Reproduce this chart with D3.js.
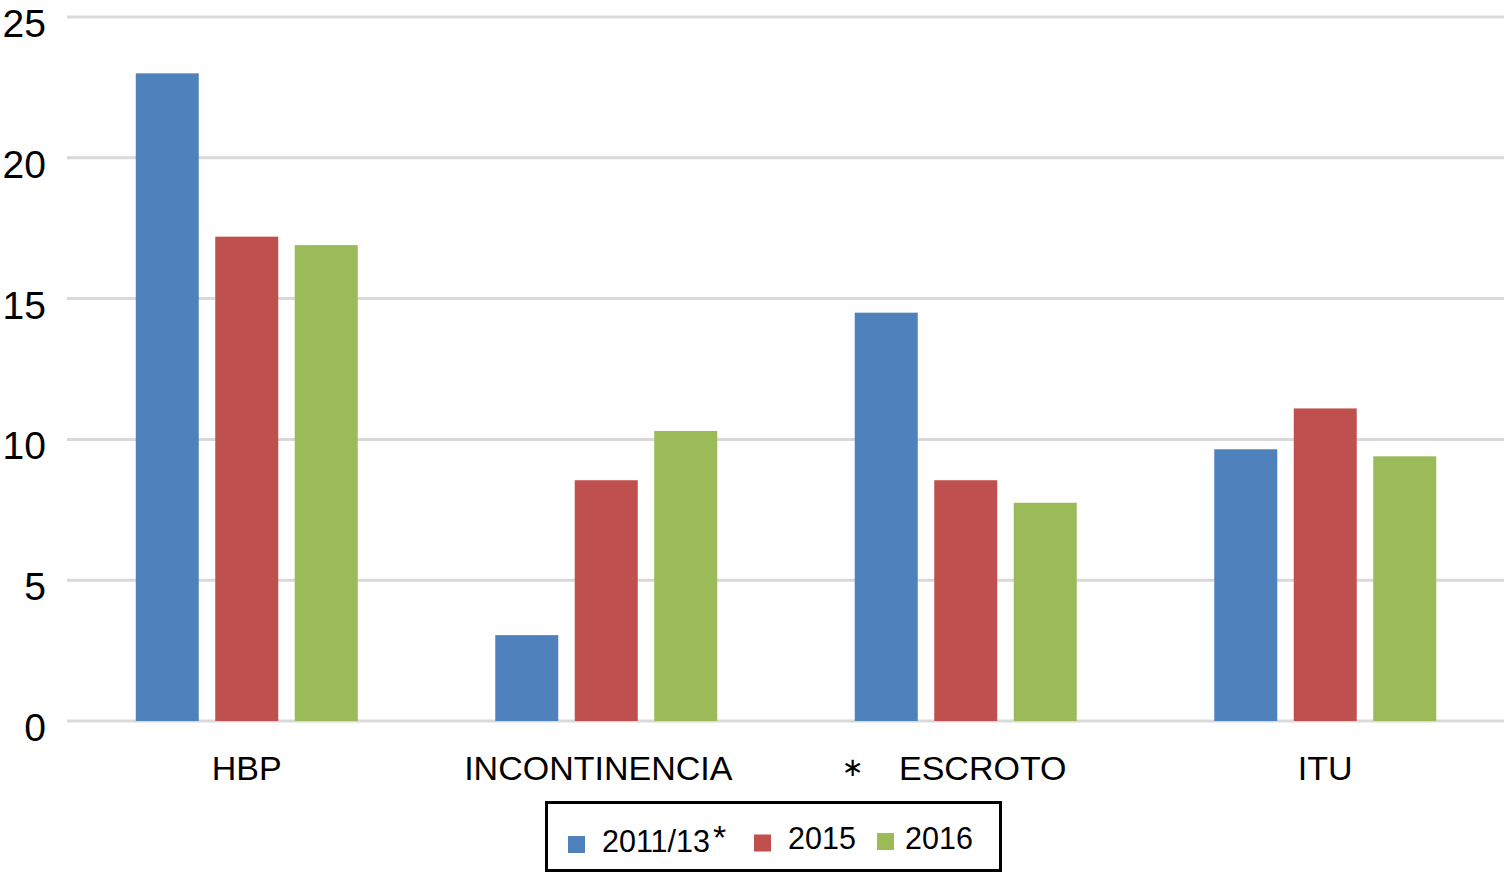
<!DOCTYPE html>
<html>
<head>
<meta charset="utf-8">
<script src="https://cdn.jsdelivr.net/npm/d3@7"></script>
<style>
  body { margin: 0; background: #fff; }
  svg { display: block; font-family: "Liberation Sans", Arial, Helvetica, sans-serif; }
</style>
</head>
<body>
<div id="chart"></div>
<script>
// values
const categories = ["HBP", "INCONTINENCIA", "ESCROTO", "ITU"];
const footMarks = ["", "", "*", ""];
const series = ["2011/13", "2015", "2016"];
const seriesMarks = ["*", "", ""];
const v2011 = [23.0, 3.05, 14.5, 9.65];
const v2015 = [17.2, 8.55, 8.55, 11.1];
const v2016 = [16.9, 10.3, 7.75, 9.4];
const yTicks = [0, 5, 10, 15, 20, 25];
const colors = ["#4f81bd", "#c0504d", "#9bbb59"];

const width = 1504, height = 873;
const margin = {top: 17, right: 0, bottom: 152, left: 67};

const values = [v2011, v2015, v2016];
const data = categories.map((c, i) => ({
  cat: c,
  vals: series.map((s, j) => ({key: s, value: values[j][i], idx: j}))
}));

const svg = d3.select("#chart").append("svg")
  .attr("width", width)
  .attr("height", height);

const x0 = d3.scaleBand()
  .domain(categories)
  .range([margin.left, width + 1]);

const x1 = d3.scaleBand()
  .domain(series)
  .range([0, x0.bandwidth()])
  .paddingInner(0.2075)
  .paddingOuter(0.865);

const y = d3.scaleLinear()
  .domain([0, 25])
  .range([height - margin.bottom, margin.top]);

// gridlines
svg.append("g")
  .selectAll("line")
  .data(yTicks)
  .join("line")
    .attr("x1", margin.left)
    .attr("x2", width)
    .attr("y1", d => y(d))
    .attr("y2", d => y(d))
    .attr("stroke", "#d9d9d9")
    .attr("stroke-width", 3);

// y tick labels
svg.append("g")
  .selectAll("text")
  .data(yTicks)
  .join("text")
    .attr("x", 46)
    .attr("y", d => y(d) + 20)
    .attr("text-anchor", "end")
    .attr("font-size", 39)
    .attr("fill", "#000")
    .text(d => d);

// bars
svg.append("g")
  .selectAll("g")
  .data(data)
  .join("g")
    .attr("transform", d => `translate(${x0(d.cat)},0)`)
  .selectAll("rect")
  .data(d => d.vals)
  .join("rect")
    .attr("x", d => x1(d.key))
    .attr("y", d => y(d.value))
    .attr("width", x1.bandwidth())
    .attr("height", d => y(0) - y(d.value))
    .attr("fill", d => colors[d.idx]);

// category labels
const catG = svg.append("g");
catG.selectAll("text.cat")
  .data(categories)
  .join("text")
    .attr("class", "cat")
    .attr("x", (d, i) => x0(d) + x0.bandwidth() / 2 + (footMarks[i] ? 17 : -8 * (i === 1)))
    .attr("y", 780)
    .attr("text-anchor", "middle")
    .attr("font-size", 34)
    .attr("fill", "#000")
    .text(d => d);
catG.selectAll("text.mark")
  .data(categories.filter((d, i) => footMarks[i]))
  .join("text")
    .attr("class", "mark")
    .attr("x", d => x0(d) + x0.bandwidth() / 2 - 113)
    .attr("y", 776)
    .attr("text-anchor", "middle")
    .attr("font-family", "DejaVu Sans, sans-serif")
    .attr("font-size", 26)
    .attr("fill", "#000")
    .text("\u2217");

// legend
const legend = svg.append("g");
legend.append("rect")
  .attr("x", 546.5)
  .attr("y", 802.5)
  .attr("width", 454)
  .attr("height", 68)
  .attr("fill", "#fff")
  .attr("stroke", "#000")
  .attr("stroke-width", 3);

const legX = [568, 754, 877];
const legTextY = [852, 849, 849];
const items = legend.selectAll("g.item")
  .data(series)
  .join("g")
    .attr("class", "item")
    .attr("transform", (d, i) => `translate(${legX[i]},0)`);
items.append("rect")
  .attr("x", 0)
  .attr("y", (d, i) => 836 - i * 1.5)
  .attr("width", 17)
  .attr("height", 17)
  .attr("fill", (d, i) => colors[i]);
const lt = items.append("text")
  .attr("x", (d, i) => i === 2 ? 28 : 34)
  .attr("y", (d, i) => legTextY[i])
  .attr("font-size", 30.5)
  .attr("fill", "#000");
lt.append("tspan").text(d => d);
lt.append("tspan")
  .attr("dx", 3)
  .attr("dy", -3)
  .attr("font-size", 34)
  .text((d, i) => seriesMarks[i]);
</script>
</body>
</html>
